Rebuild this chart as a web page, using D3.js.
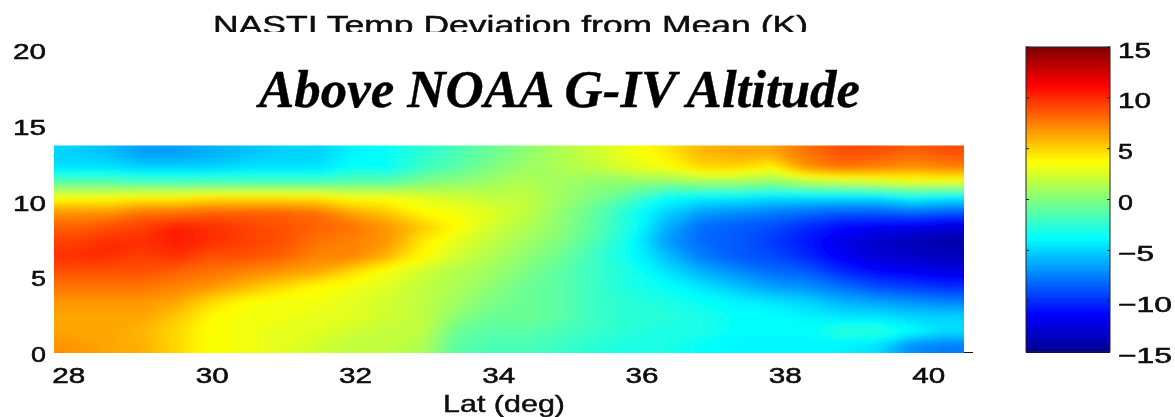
<!DOCTYPE html>
<html><head><meta charset="utf-8">
<script src="https://cdn.jsdelivr.net/npm/d3@7"></script>
<style>html,body{margin:0;padding:0;background:#fff;overflow:hidden}svg{display:block}text{fill:#111;font-family:"Liberation Sans",sans-serif}</style>
</head><body><svg id="c" width="1175" height="417"></svg>
<script>
// Temperature deviation (K): one array per altitude row, top of the curtain to the ground
const row01=[-5,-5.5,-6.5,-6.5,-6,-5.5,-5,-5,-4,-3.5,-2.5,-1.5,-0.5,0.5,1.5,2.5,3.5,4.5,6,6.5,6.5,8,9,9,8.5,9];
const row02=[-4.5,-4.5,-5,-5,-5,-4.5,-4.5,-4.5,-3.5,-3.5,-2,-1,0,1,1.5,2,3,3.5,5,5,4,7,8,7.5,7,7.5];
const row03=[-1,-1,-1.5,-1.5,-1.5,-1.5,-1.5,-1.5,-1,-1,0,0.5,1,1.5,1,0.5,0.5,0.5,1,1,0.5,1.5,2,2.5,3,3];
const row04=[3.5,3.5,4,4,4.5,4.5,4.5,4.5,3.5,3.5,3,2.5,2,2,1,0,-1.5,-3.5,-4,-4,-4.5,-4.5,-4.5,-4.5,-3.5,-4];
const row05=[7,7,8,8,8.5,8.5,8.5,8,6.5,5.5,4,3.5,3,2,0.5,-1,-3,-5,-6.5,-7,-7.5,-8,-8.5,-8.5,-8,-8.5];
const row06=[8.5,9,9.5,10.5,10,9.5,9,8.5,8,7,5.5,4,2.5,1.5,0.5,-1,-3,-6,-8,-8.5,-9,-10,-11,-11.5,-12,-12.5];
const row07=[9.5,10,10,10.5,10,9.5,9,8,7.5,7,4.5,3,2,1,0,-1.5,-3.5,-6.5,-8,-8.5,-9.5,-10.5,-12,-13,-13.5,-14];
const row08=[10,10,9.5,10,9,9,8.5,7.5,7.5,6,4,2.5,1.5,0.5,-0.5,-2,-3.5,-5.5,-7.5,-8.5,-9,-10,-11.5,-12.5,-13,-13.5];
const row09=[9,9,9,8.5,8,7.5,7,6.5,5,3.5,2.5,1.5,1,0,-1,-2,-3,-4.5,-6,-7,-8,-8.5,-10,-11,-11.5,-12];
const row10=[8,8,8,7.5,7,6,5,4,3.5,3,2,1.5,0.5,-0.5,-1,-2,-3,-3.5,-4.5,-5.5,-6.5,-7,-8,-9,-9.5,-10];
const row11=[7,7,7,6.5,5,4,3.5,3.5,3,2.5,2,1,0,-0.5,-1,-2,-2.5,-3,-3.5,-4,-4.5,-5,-6,-6.5,-7,-7.5];
const row12=[6.5,6.5,6.5,5.5,4,3.5,3.5,3.2,3,2.5,2,0.5,-0.5,-0.5,-1,-2,-2.5,-2.5,-3,-3.5,-3.5,-4,-4.5,-4.5,-5,-5];
const row13=[6.5,6.5,6,5,3.7,3.5,3,3,2.5,2,2,-0.5,-1,-1,-1.5,-2,-2.5,-3,-3,-3.5,-3.5,-3.5,-2.5,-2.5,-3.5,-4.5];
const row14=[7,6.5,6.2,5,3.7,3.5,3,2.5,2,2,1.5,-1,-1.5,-1.5,-2,-2.5,-3,-3,-3.5,-4,-4,-4,-4,-4.5,-7,-7.5];
const rows=[row01,row02,row03,row04,row05,row06,row07,row08,row09,row10,row11,row12,row13,row14];
const latExtent=[27.8,40.5];
const altTop=13.7;
const latTicks=[28,30,32,34,36,38,40];
const altTicks=[0,5,10,15,20];
const barTicks=[-15,-10,-5,0,5,10,15];
const titleText="NASTI Temp Deviation from Mean (K)";
const overlayText="Above NOAA G-IV Altitude";
const xLabel="Lat (deg)";

const svg=d3.select("#c");
const defs=svg.append("defs");
const x=d3.scaleLinear().domain(latExtent).range([54,964]);
const y=d3.scaleLinear().domain([0,20]).range([353,50]);
const jet=d3.scaleLinear().domain([-15,-11.25,-3.75,3.75,11.25,15])
  .range(["#00008f","#0000ff","#00ffff","#ffff00","#ff0000","#800000"]);

// Heat map as stacked filled contours; rows and columns are repeated past the edges so the
// contour outline falls outside the clip
const pad=4;
const padRow=r=>[...Array(pad).fill(r[0]),...r,...Array(pad).fill(r[r.length-1])];
const padded=[...Array(pad).fill(rows[0]),...rows,...Array(pad).fill(rows[rows.length-1])].map(padRow);
const nx=rows[0].length, ny=rows.length;
const gx=d3.scaleLinear().domain([pad,pad+nx]).range(latExtent.map(x));
const gy=d3.scaleLinear().domain([pad,pad+ny]).range([y(altTop),y(0)]);
const path=d3.geoPath(d3.geoTransform({point(a,b){this.stream.point(gx(a),gy(b));}}));
const levels=[-30].concat(d3.range(-15,15.01,0.2));
const contours=d3.contours().size([nx+2*pad,ny+2*pad]).thresholds(levels)(padded.flat());
defs.append("clipPath").attr("id","hc").append("rect")
  .attr("x",x(latExtent[0])).attr("y",y(altTop)).attr("width",x(latExtent[1])-x(latExtent[0])).attr("height",y(0)-y(altTop));
const blur=defs.append("filter").attr("id","soft").attr("filterUnits","userSpaceOnUse")
  .attr("x",-100).attr("y",0).attr("width",1400).attr("height",600);
blur.append("feGaussianBlur").attr("stdDeviation","5 3");
svg.append("g").attr("clip-path","url(#hc)")
  .append("g").attr("filter","url(#soft)")
  .selectAll("path").data(contours).join("path")
  .attr("d",path).attr("fill",d=>jet(Math.max(-15,d.value)));

// Small tick at the lower right of the plot
svg.append("line").attr("x1",x(latExtent[1])).attr("x2",x(latExtent[1])+9)
  .attr("y1",y(0)-0.5).attr("y2",y(0)-0.5).attr("stroke","#111");

const fuzz=defs.append("filter").attr("id","fuzz");
fuzz.append("feGaussianBlur").attr("stdDeviation",0.45);

function styleTicks(g,lenFn,anchor){
  g.select(".domain").remove();
  g.selectAll(".tick line").remove();
  g.selectAll("text").attr("font-size",22).attr("fill","#000").attr("stroke","#000").attr("stroke-width",0.5)
    .attr("font-family",'"Liberation Sans",sans-serif')
    .attr("text-anchor",anchor).attr("filter","url(#fuzz)")
    .attr("textLength",lenFn).attr("lengthAdjust","spacingAndGlyphs");
}
const len=d=>{const s=String(Math.abs(d));return (s.length===1?15:33)+(d<0?19:0);};

svg.append("g").attr("transform","translate(46,0)")
  .call(d3.axisLeft(y).tickValues(altTicks).tickSize(0).tickPadding(0))
  .call(g=>styleTicks(g,len,"end"))
  .call(g=>g.selectAll("text").attr("dy","8.5"));
svg.append("g").attr("transform","translate(0,353)")
  .call(d3.axisBottom(x).tickValues(latTicks).tickSize(0).tickPadding(0))
  .call(g=>styleTicks(g,len,"middle"))
  .call(g=>g.selectAll("text").attr("y",30).attr("dy",0));

// Title clipped by the white overlay box
defs.append("clipPath").attr("id","tc").append("rect").attr("x",0).attr("y",0).attr("width",1175).attr("height",32);
svg.append("g").attr("clip-path","url(#tc)").append("text").attr("x",213).attr("y",34).attr("font-size",25)
  .attr("textLength",595).attr("lengthAdjust","spacingAndGlyphs").attr("stroke","#000").attr("stroke-width",0.4).attr("filter","url(#fuzz)").text(titleText);
svg.append("text").attr("x",259).attr("y",107).attr("font-size",53).attr("font-weight","bold").attr("font-style","italic")
  .style("font-family",'"Liberation Serif",serif').style("fill","#000").attr("stroke","#000").attr("stroke-width",0.4)
  .attr("textLength",601).attr("lengthAdjust","spacingAndGlyphs").text(overlayText);
svg.append("text").attr("x",443).attr("y",412).attr("font-size",24)
  .attr("textLength",122).attr("lengthAdjust","spacingAndGlyphs").attr("stroke","#000").attr("stroke-width",0.4).attr("filter","url(#fuzz)").text(xLabel);

// Colour bar
const cb=d3.scaleLinear().domain([-15,15]).range([352,47]);
const barX=[1026,1110];
const steps=d3.range(-15,15,0.25);
svg.append("g").attr("shape-rendering","crispEdges").selectAll("rect").data(steps).join("rect")
  .attr("x",barX[0]).attr("width",barX[1]-barX[0])
  .attr("y",d=>cb(d+0.25)).attr("height",d=>cb(d)-cb(d+0.25)+0.5)
  .attr("fill",d=>jet(d+0.125));
svg.append("rect").attr("x",barX[0]).attr("y",47).attr("width",barX[1]-barX[0]).attr("height",305)
  .attr("fill","none").attr("stroke","#222").attr("stroke-width",1);
svg.append("g").selectAll("path").data(barTicks).join("path")
  .attr("d",d=>`M${barX[0]},${cb(d)}h3M${barX[1]},${cb(d)}h-3`).attr("stroke","#222");
svg.append("g").attr("transform","translate(1118,0)")
  .call(d3.axisRight(cb).tickValues(barTicks).tickSize(0).tickPadding(0))
  .call(g=>styleTicks(g,d=>len(d)+(d<0?2:0),"start"))
  .call(g=>g.selectAll("text").attr("dy","10"));
</script></body></html>
